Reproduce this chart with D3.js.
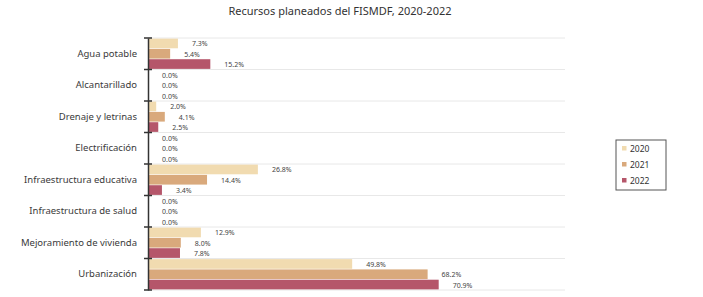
<!DOCTYPE html>
<html>
<head>
<meta charset="utf-8">
<script src="https://cdn.jsdelivr.net/npm/d3@7"></script>
<style>
  html, body { margin: 0; padding: 0; background: #ffffff; }
  svg { display: block; font-family: "Noto Sans", Lato, sans-serif; }
</style>
</head>
<body>
<svg id="chart" width="703" height="297"></svg>
<script>
const categories = [
  "Agua potable",
  "Alcantarillado",
  "Drenaje y letrinas",
  "Electrificación",
  "Infraestructura educativa",
  "Infraestructura de salud",
  "Mejoramiento de vivienda",
  "Urbanización"
];
const years = ["2020", "2021", "2022"];
const values2020 = [7.3, 0.0, 2.0, 0.0, 26.8, 0.0, 12.9, 49.8];
const values2021 = [5.4, 0.0, 4.1, 0.0, 14.4, 0.0, 8.0, 68.2];
const values2022 = [15.2, 0.0, 2.5, 0.0, 3.4, 0.0, 7.8, 70.9];
const colors = ["#f1dbb0", "#d9a97c", "#b5566a"];
const title = "Recursos planeados del FISMDF, 2020-2022";

const series = [values2020, values2021, values2022];
const svg = d3.select("#chart");
const margin = { left: 148, top: 38, right: 138, bottom: 7 };
const W = 703, H = 297;

const x = d3.scaleLinear().domain([0, 100]).range([margin.left, margin.left + 410]);
const y = d3.scaleBand().domain(categories).range([margin.top, H - margin.bottom]).paddingInner(0).paddingOuter(0);
const yInner = d3.scaleBand().domain(years).range([0, y.bandwidth()]).paddingInner(0.06).paddingOuter(0.06);

// title
svg.append("text")
  .attr("x", 340).attr("y", 15)
  .attr("text-anchor", "middle")
  .attr("font-size", 11)
  .attr("fill", "#333")
  .text(title);

// light horizontal gridlines at category boundaries
const bounds = categories.map(c => y(c)).concat([y.range()[1]]);
svg.append("g").selectAll("line").data(bounds).join("line")
  .attr("x1", margin.left).attr("x2", 565)
  .attr("y1", d => d).attr("y2", d => d)
  .attr("stroke", "#e8e8e8").attr("stroke-width", 1);

// bars
const groups = svg.append("g").selectAll("g").data(categories).join("g")
  .attr("transform", c => `translate(0,${y(c)})`);

years.forEach((yr, si) => {
  groups.append("rect")
    .attr("x", x(0))
    .attr("y", yInner(yr))
    .attr("width", (c, i) => x(series[si][i]) - x(0))
    .attr("height", yInner.bandwidth())
    .attr("fill", colors[si]);
  groups.append("text")
    .attr("x", (c, i) => x(series[si][i]) + 14)
    .attr("y", yInner(yr) + yInner.bandwidth() / 2 + 3)
    .attr("font-size", 7)
    .attr("fill", "#444")
    .text((c, i) => series[si][i].toFixed(1) + "%");
});

// y axis
const yAxis = d3.axisLeft(y).tickSize(0).tickPadding(11);
const ag = svg.append("g").attr("transform", `translate(${margin.left},0)`).call(yAxis);
ag.select(".domain").attr("stroke", "#333").attr("stroke-width", 1.5);
ag.selectAll(".tick text").attr("font-size", 9.5).attr("fill", "#3a3a3a")
  .attr("font-family", "\"Noto Sans\", Lato, sans-serif");
// boundary tick marks
svg.append("g").selectAll("line").data(bounds).join("line")
  .attr("x1", margin.left - 4).attr("x2", margin.left + 4)
  .attr("y1", d => d).attr("y2", d => d)
  .attr("stroke", "#333").attr("stroke-width", 1.5);

// legend
const lg = svg.append("g").attr("transform", "translate(616,140)");
lg.append("rect").attr("x", 0).attr("y", 0).attr("width", 50).attr("height", 50)
  .attr("fill", "#fff").attr("stroke", "#555").attr("stroke-width", 1);
years.forEach((yr, i) => {
  lg.append("rect").attr("x", 6).attr("y", 9 + i * 16 - 3).attr("width", 4.5).attr("height", 4.5)
    .attr("fill", colors[i]);
  lg.append("text").attr("x", 14).attr("y", 9 + i * 16 + 2.5)
    .attr("font-size", 8.5).attr("fill", "#333").text(yr);
});
</script>
</body>
</html>
